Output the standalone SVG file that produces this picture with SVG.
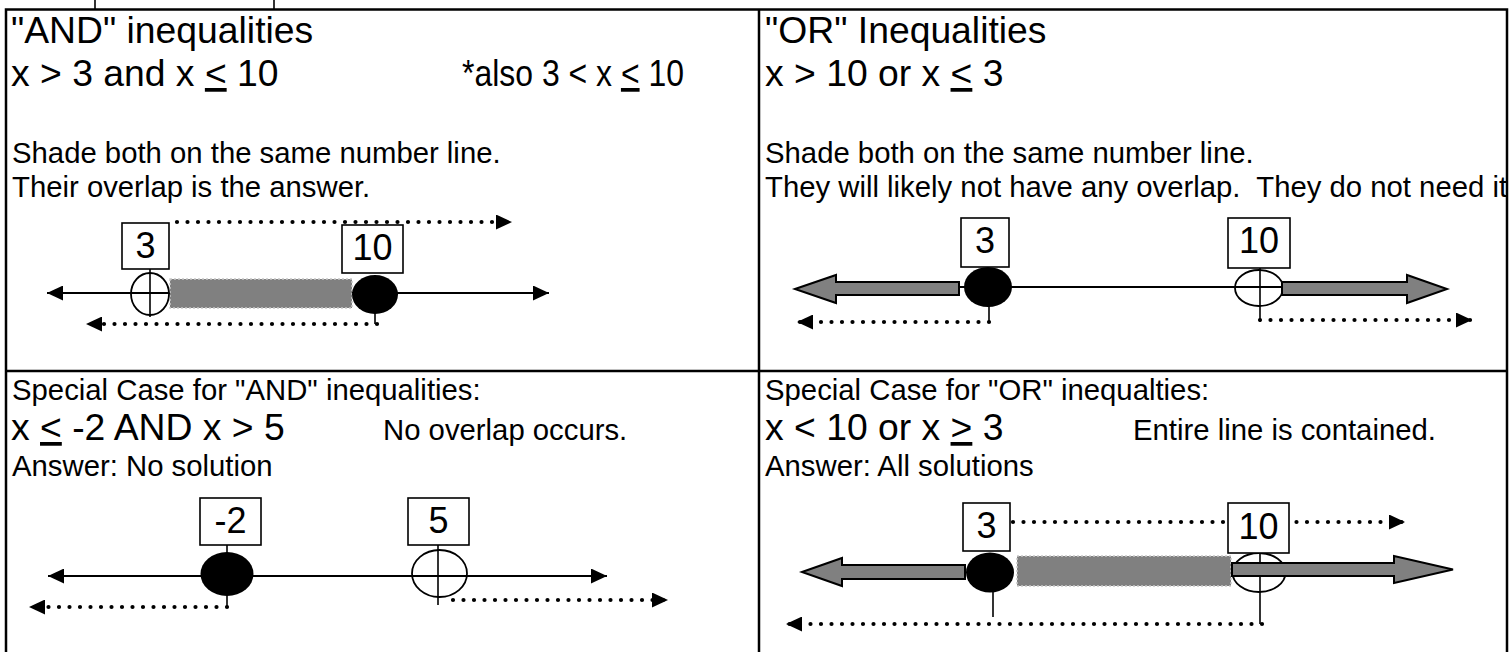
<svg xmlns="http://www.w3.org/2000/svg" width="1512" height="652" viewBox="0 0 1512 652">
<style>
text{font-family:"Liberation Sans",Arial,sans-serif;fill:#000}
.big{font-size:37.3px}
.sm{font-size:29.3px}
.num{font-size:36px;text-anchor:middle}
.u{text-decoration:underline}
.frame{fill:none;stroke:#000;stroke-width:2.5}
.nl{fill:none;stroke:#000;stroke-width:2}
.dot{fill:none;stroke:#000;stroke-width:4.2;stroke-linecap:round;stroke-dasharray:0 10.5}
.box{fill:#fff;stroke:#000;stroke-width:1.6}
.open{fill:none;stroke:#000;stroke-width:1.8}
.fill{fill:#000}
.shade{fill:#808080;stroke:#c8c8c8;stroke-width:1.5;stroke-dasharray:2 2}
.garrow{fill:#808080;stroke:#000;stroke-width:2;stroke-linejoin:miter}
.thin{stroke:#000;stroke-width:1.6}
</style>
<defs>
<marker id="ah" markerUnits="userSpaceOnUse" markerWidth="17" markerHeight="15" refX="16" refY="7.5" orient="auto-start-reverse">
<path d="M0,0 L16,7.5 L0,15 z" fill="#000"/>
</marker>
</defs>

<g id="frame">
<line x1="95" y1="0" x2="95" y2="9" class="thin"/>
<line x1="274" y1="0" x2="274" y2="9" class="thin"/>
<path class="frame" d="M6,652 V9.5 H1507 V652"/>
<line class="frame" x1="759" y1="9.5" x2="759" y2="652"/>
<line class="frame" x1="6" y1="371" x2="1507" y2="371"/>
</g>

<g id="and-panel">
<text class="big" x="11" y="43">"AND" inequalities</text>
<text class="big" x="11" y="86">x &gt; 3 and x <tspan class="u">&lt;</tspan> 10</text>
<text class="big" x="462" y="86" textLength="222" lengthAdjust="spacingAndGlyphs">*also 3 &lt; x <tspan class="u">&lt;</tspan> 10</text>
<text class="sm" x="12" y="163">Shade both on the same number line.</text>
<text class="sm" x="12" y="197">Their overlap is the answer.</text>
</g>

<g id="or-panel">
<text class="big" x="765" y="43">"OR" Inequalities</text>
<text class="big" x="765" y="86">x &gt; 10 or x <tspan class="u">&lt;</tspan> 3</text>
<text class="sm" x="765" y="163">Shade both on the same number line.</text>
<text class="sm" x="765" y="197" xml:space="preserve">They will likely not have any overlap.  They do not need it</text>
</g>

<g id="and-special-panel">
<text class="sm" x="12" y="400">Special Case for "AND" inequalities:</text>
<text class="big" x="11" y="440">x <tspan class="u">&lt;</tspan> -2 AND x &gt; 5</text>
<text class="sm" x="383" y="440">No overlap occurs.</text>
<text class="sm" x="12" y="476">Answer: No solution</text>
</g>

<g id="or-special-panel">
<text class="sm" x="765" y="400">Special Case for "OR" inequalties:</text>
<text class="big" x="765" y="440">x &lt; 10 or x <tspan class="u">&gt;</tspan> 3</text>
<text class="sm" x="1133" y="440">Entire line is contained.</text>
<text class="sm" x="765" y="476">Answer: All solutions</text>
</g>

<g id="connectors">
<line class="nl" x1="47" y1="293" x2="549" y2="293" marker-start="url(#ah)" marker-end="url(#ah)"/>
<line class="nl" x1="959" y1="287" x2="1285" y2="287"/>
<line class="nl" x1="48" y1="576" x2="607" y2="576" marker-start="url(#ah)" marker-end="url(#ah)"/>
</g>

<g id="tl-shade"><rect class="shade" x="170" y="279" width="182" height="29"/></g>
<g id="tl-open-3">
<ellipse class="open" cx="150" cy="294" rx="19" ry="21"/>
<line class="thin" x1="150" y1="269" x2="150" y2="317"/>
</g>
<g id="tl-closed-10">
<ellipse class="fill" cx="375" cy="294.5" rx="23" ry="19.5"/>
<line class="thin" x1="375" y1="312" x2="375" y2="324"/>
</g>
<g id="tl-box-3"><rect class="box" x="122" y="223" width="47" height="46"/><text class="num" x="145.5" y="258">3</text></g>
<g id="tl-box-10"><rect class="box" x="342" y="225" width="61" height="48"/><text class="num" x="372.5" y="260">10</text></g>

<g id="tr-left-arrow"><polygon class="garrow" points="795,289 836,275 836,282 959,282 959,295 836,295 836,303"/></g>
<g id="tr-closed-3">
<ellipse class="fill" cx="988" cy="287" rx="24" ry="20"/>
<line class="thin" x1="989" y1="305" x2="989" y2="322"/>
</g>
<g id="tr-open-10">
<ellipse class="open" cx="1259" cy="288" rx="24" ry="18"/>
<line class="thin" x1="1260" y1="268" x2="1260" y2="322"/>
</g>
<g id="tr-right-arrow"><polygon class="garrow" points="1282,282 1407,282 1407,275 1447,289 1407,303 1407,295 1282,295"/></g>
<g id="tr-box-3"><rect class="box" x="961" y="218" width="48" height="49"/><text class="num" x="985" y="253">3</text></g>
<g id="tr-box-10"><rect class="box" x="1228" y="218" width="62" height="50"/><text class="num" x="1259" y="253">10</text></g>

<g id="bl-closed-m2">
<line class="thin" x1="227" y1="545" x2="227" y2="607"/>
<ellipse class="fill" cx="227" cy="574" rx="26.5" ry="22"/>
</g>
<g id="bl-open-5">
<ellipse class="open" cx="439.5" cy="573.5" rx="27.5" ry="23.5"/>
<line class="thin" x1="438" y1="545" x2="438" y2="605"/>
</g>
<g id="bl-box-m2"><rect class="box" x="200" y="498" width="61" height="47"/><text class="num" x="230.5" y="533">-2</text></g>
<g id="bl-box-5"><rect class="box" x="408" y="498" width="61" height="47"/><text class="num" x="438.5" y="533">5</text></g>

<g id="br-left-arrow"><polygon class="garrow" points="802,572 842,558 842,565 965,565 965,579 842,579 842,586"/></g>
<g id="br-closed-3">
<ellipse class="fill" cx="990" cy="572.5" rx="24" ry="20"/>
<line class="thin" x1="993" y1="590" x2="993" y2="617"/>
</g>
<g id="br-shade"><rect class="shade" x="1017" y="556" width="214" height="30"/></g>
<g id="br-open-10">
<ellipse class="open" cx="1259" cy="572.5" rx="26.5" ry="19.5"/>
<line class="thin" x1="1260" y1="553" x2="1260" y2="624"/>
</g>
<g id="br-right-arrow"><polygon class="garrow" points="1232,563 1394,563 1394,556 1453,569.5 1394,583 1394,576 1232,576"/></g>

<g id="dotted-connectors">
<line class="dot" x1="177" y1="222" x2="512" y2="222" marker-end="url(#ah)"/>
<line class="dot" x1="377" y1="324" x2="86" y2="324" marker-end="url(#ah)"/>
<line class="dot" x1="989" y1="322" x2="797" y2="322" marker-end="url(#ah)"/>
<line class="dot" x1="1260" y1="320" x2="1472" y2="320" marker-end="url(#ah)"/>
<line class="dot" x1="227" y1="607" x2="29" y2="607" marker-end="url(#ah)"/>
<line class="dot" x1="453" y1="600" x2="668" y2="600" marker-end="url(#ah)"/>
<line class="dot" x1="1013" y1="522" x2="1405" y2="522" marker-end="url(#ah)"/>
<line class="dot" x1="1262" y1="624" x2="786" y2="624" marker-end="url(#ah)"/>
</g>

<g id="br-box-3"><rect class="box" x="963" y="503" width="47" height="48"/><text class="num" x="986.5" y="538">3</text></g>
<g id="br-box-10"><rect class="box" x="1228" y="503" width="61" height="50"/><text class="num" x="1258.5" y="539">10</text></g>
</svg>
